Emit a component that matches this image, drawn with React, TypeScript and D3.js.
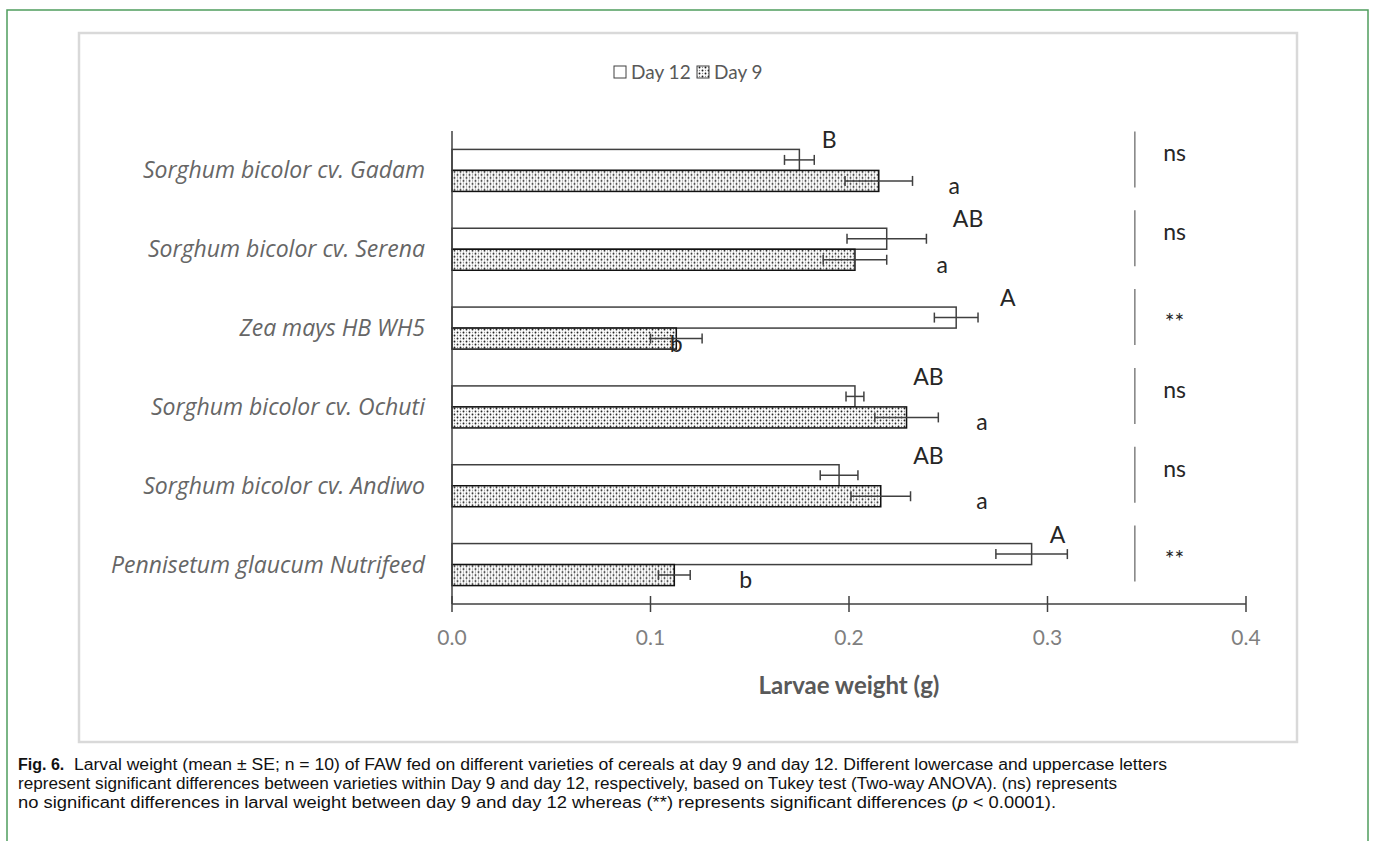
import React from 'react';
import * as d3 from 'd3';

// Larval weight per cereal variety, day 12 vs day 9 (mean ± SE)
const categories = [
  'Sorghum bicolor cv. Gadam',
  'Sorghum bicolor cv. Serena',
  'Zea mays HB WH5',
  'Sorghum bicolor cv. Ochuti',
  'Sorghum bicolor cv. Andiwo',
  'Pennisetum glaucum Nutrifeed',
];
const seriesNames = ['Day 12', 'Day 9'];
const day12 = [0.175, 0.219, 0.254, 0.203, 0.195, 0.292];
const day12Se = [0.0075, 0.02, 0.011, 0.0045, 0.0095, 0.018];
const day9 = [0.215, 0.203, 0.113, 0.229, 0.216, 0.112];
const day9Se = [0.017, 0.016, 0.013, 0.016, 0.015, 0.008];
// Tukey letters and where they were placed (in g along the axis)
const day12Letters = ['B', 'AB', 'A', 'AB', 'AB', 'A'];
const day12LetterAt = [0.19, 0.26, 0.28, 0.24, 0.24, 0.305];
const day9Letters = ['a', 'a', 'b', 'a', 'a', 'b'];
const day9LetterAt = [0.253, 0.247, 0.113, 0.267, 0.267, 0.148];
const pairSig = ['ns', 'ns', '**', 'ns', 'ns', '**'];
const xTicks = [0, 0.1, 0.2, 0.3, 0.4];

const captionLines = [
  'Larval weight (mean ± SE; n = 10) of FAW fed on different varieties of cereals at day 9 and day 12. Different lowercase and uppercase letters',
  'represent significant differences between varieties within Day 9 and day 12, respectively, based on Tukey test (Two-way ANOVA). (ns) represents',
];

const font = 'Lato, "Open Sans", sans-serif';
const dark = '#262626';
const grey = '#595959';

export default function App() {
  const x = d3.scaleLinear().domain([0, 0.4]).range([452, 1246]);
  const y = d3.scaleBand<string>().domain(categories).range([131, 604])
    .paddingInner(0.467).paddingOuter(0.2335);
  const sub = d3.scaleBand<string>().domain(seriesNames).range([0, y.bandwidth()]);

  const rows = categories.map((c, i) => ({
    c, i,
    vals: [
      { s: 'Day 12', v: day12[i], se: day12Se[i] },
      { s: 'Day 9', v: day9[i], se: day9Se[i] },
    ],
  }));

  return (
    <svg width={1373} height={841} style={{ position: 'absolute', left: 0, top: 0, background: '#fff' }}>
      <defs>
        <pattern id="dots" width={6} height={6} patternUnits="userSpaceOnUse">
          <rect width={6} height={6} fill="#fff" />
          <circle cx={1.5} cy={1.5} r={0.95} fill="#1a1a1a" />
          <circle cx={4.5} cy={4.5} r={0.95} fill="#1a1a1a" />
          <circle cx={4.5} cy={1.5} r={0.65} fill="#8c8c8c" />
          <circle cx={1.5} cy={4.5} r={0.65} fill="#8c8c8c" />
        </pattern>
      </defs>

      {/* outer figure frame and chart area */}
      <rect x={7} y={10} width={1361} height={845} fill="none" stroke="#4f9d5d" strokeWidth={1.5} />
      <rect x={79} y={33} width={1218} height={709} fill="#fff" stroke="#d9d9d9" strokeWidth={2.5} />

      {/* legend */}
      <g transform="translate(614,72)" fontFamily={font} fontSize={19} fill={grey}>
        <rect x={0} y={-6} width={12} height={12} fill="#fff" stroke="#404040" />
        <text x={17} dy="0.35em">Day 12</text>
        <rect x={83} y={-6} width={12} height={12} fill="url(#dots)" stroke="#404040" />
        <text x={100} dy="0.35em">Day 9</text>
      </g>

      {/* bars */}
      {rows.map(r => (
        <g key={r.c} transform={`translate(0,${y(r.c)})`}>
          {r.vals.map(d => {
            const top = sub(d.s)!;
            const mid = top + sub.bandwidth() / 2;
            return (
              <g key={d.s}>
                <rect x={x(0)} y={top} width={x(d.v) - x(0)} height={sub.bandwidth()}
                  fill={d.s === 'Day 12' ? '#fff' : 'url(#dots)'}
                  stroke={d.s === 'Day 12' ? '#404040' : '#111'} strokeWidth={1.5} />
                <g stroke="#404040" strokeWidth={1.5}>
                  <line x1={x(d.v - d.se)} x2={x(d.v + d.se)} y1={mid} y2={mid} />
                  <line x1={x(d.v - d.se)} x2={x(d.v - d.se)} y1={mid - 5} y2={mid + 5} />
                  <line x1={x(d.v + d.se)} x2={x(d.v + d.se)} y1={mid - 5} y2={mid + 5} />
                </g>
              </g>
            );
          })}
        </g>
      ))}

      {/* axes */}
      <line x1={x(0)} x2={x(0)} y1={131} y2={604} stroke="#404040" strokeWidth={1.5} />
      <line x1={x(0)} x2={x(0.4)} y1={604} y2={604} stroke="#404040" strokeWidth={1.5} />
      {xTicks.map(t => (
        <g key={t}>
          <line x1={x(t)} x2={x(t)} y1={596} y2={612} stroke="#404040" strokeWidth={1.5} />
          <text x={x(t)} y={638} dy="0.35em" textAnchor="middle" fontFamily={font} fontSize={21} fill="#7f7f7f">
            {d3.format('.1f')(t)}
          </text>
        </g>
      ))}
      <text x={x(0.2)} y={686} dy="0.35em" textAnchor="middle" fontFamily={font} fontSize={24}
        fontWeight="bold" fill={grey}>Larvae weight (g)</text>

      {/* category labels */}
      {categories.map(c => (
        <text key={c} x={425} y={y(c)! + y.bandwidth() / 2} dy="0.35em" textAnchor="end"
          fontFamily='"Open Sans", Lato, sans-serif' fontStyle="italic" fontSize={23} fill="#666">{c}</text>
      ))}

      {/* Tukey letters */}
      {categories.map((c, i) => (
        <g key={c} fontFamily={font} fontSize={23} fill={dark} textAnchor="middle">
          <text x={x(day12LetterAt[i])} y={y(c)! - 9} dy="0.35em">{day12Letters[i]}</text>
          <text x={x(day9LetterAt[i])} y={y(c)! + sub('Day 9')! + sub.bandwidth() / 2 + 5} dy="0.35em">
            {day9Letters[i]}
          </text>
        </g>
      ))}

      {/* day 9 vs day 12 significance */}
      {categories.map((c, i) => {
        const mid = y(c)! + y.bandwidth() / 2;
        return (
          <g key={c}>
            <line x1={x(0.344)} x2={x(0.344)} y1={mid - 39} y2={mid + 17} stroke="#808080" strokeWidth={1.5} />
            <text x={x(0.364)} y={pairSig[i] === 'ns' ? mid - 17 : mid - 6} dy="0.35em" textAnchor="middle"
              fontFamily={font} fontSize={23} fill={dark}>{pairSig[i]}</text>
          </g>
        );
      })}

      {/* caption */}
      <g fontFamily='"Liberation Sans", Arial, sans-serif' fontSize={16} fill="#111">
        <text x={18} y={770} fontWeight="bold">Fig. 6.</text>
        <text x={74} y={770} textLength={1093} lengthAdjust="spacingAndGlyphs">{captionLines[0]}</text>
        <text x={18} y={789} textLength={1099} lengthAdjust="spacingAndGlyphs">{captionLines[1]}</text>
        <text x={18} y={808} textLength={1038} lengthAdjust="spacingAndGlyphs">
          no significant differences in larval weight between day 9 and day 12 whereas (**) represents significant differences (<tspan fontStyle="italic">p</tspan> &lt; 0.0001).
        </text>
      </g>
    </svg>
  );
}
